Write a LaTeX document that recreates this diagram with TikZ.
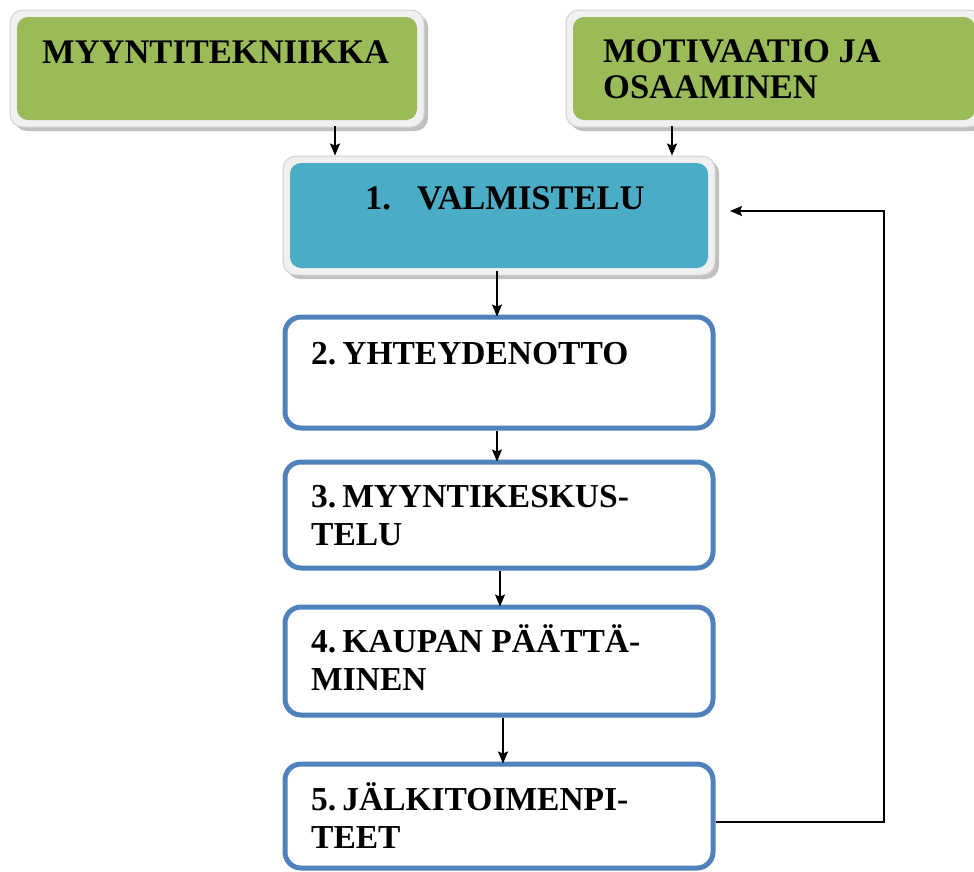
\documentclass[tikz,border=0pt]{standalone}
\usepackage{fontspec}
\setmainfont{Liberation Serif}
\usetikzlibrary{arrows.meta,shadows}
\definecolor{leafgreen}{HTML}{9BBB59}
\definecolor{tealblue}{HTML}{4BACC6}
\definecolor{stepline}{HTML}{4F81BD}
\newcommand{\twoline}[2]{\vtop{\baselineskip=38pt\hbox{#1}\hbox{#2}}}
\begin{document}
\begin{tikzpicture}[x=1pt,y=-1pt,
  frame/.style={rectangle,draw=black!18,line width=1pt,fill=black!6,rounded corners=13pt,
    drop shadow={shadow xshift=4pt,shadow yshift=-4pt,fill=black!45,opacity=.55},
    inner sep=0pt},
  inner/.style={rectangle,rounded corners=11pt,inner sep=0pt},
  stepbox/.style={rectangle,draw=stepline,line width=5pt,fill=white,rounded corners=16pt,inner sep=0pt},
  lbl/.style={anchor=base west,inner sep=0pt,font=\bfseries\fontsize{33.5}{38}\selectfont},
  title/.style={lbl,font=\bfseries\fontsize{34.5}{36}\selectfont},
  arr/.style={line width=1.4pt,-{Stealth[length=12pt,width=10pt,inset=2pt]}}]
\useasboundingbox (0,0) rectangle (974,871);

% top input boxes
\node[frame,minimum width=414,minimum height=117] (g1o) at (217,68.5) {};
\node[inner,fill=leafgreen,minimum width=400,minimum height=103] (g1) at (217,68.5) {};
\node[title] (t1) at (42,63) {MYYNTITEKNIIKKA};

\node[frame,minimum width=416,minimum height=117] (g2o) at (774,68.5) {};
\node[inner,fill=leafgreen,minimum width=402,minimum height=103] (g2) at (774,68.5) {};
\node[title] (t2) at (603,62) {\vtop{\baselineskip=36pt\hbox{MOTIVAATIO JA}\hbox{OSAAMINEN}}};

% step 1
\node[frame,minimum width=432,minimum height=119] (bo) at (499,215.5) {};
\node[inner,fill=tealblue,minimum width=418,minimum height=105] (b1) at (499,215.5) {};
\node[title] (t3) at (365,209) {1.\hspace{26pt}VALMISTELU};

% steps 2-5
\node[stepbox,minimum width=428,minimum height=111] (b2) at (499,372.5) {};
\node[lbl] (t4) at (311,364) {2.\hspace{6pt}YHTEYDENOTTO};

\node[stepbox,minimum width=428,minimum height=106] (b3) at (499,515) {};
\node[lbl] (t5) at (311,507) {\twoline{3.\hspace{6pt}MYYNTIKESKUS-}{TELU}};

\node[stepbox,minimum width=428,minimum height=108] (b4) at (499,661) {};
\node[lbl] (t6) at (311,652) {\twoline{4.\hspace{6pt}KAUPAN PÄÄTTÄ-}{MINEN}};

\node[stepbox,minimum width=428,minimum height=104] (b5) at (499,816) {};
\node[lbl] (t7) at (311,810) {\twoline{5.\hspace{6pt}JÄLKITOIMENPI-}{TEET}};

% connectors
\draw[arr] ([xshift=118pt,yshift=2pt]g1o.south) -- ([xshift=-164pt]bo.north);
\draw[arr] ([xshift=-102pt,yshift=2pt]g2o.south) -- ([xshift=173pt]bo.north);
\draw[arr] ([xshift=-2pt,yshift=5pt]bo.south) -- ([xshift=-2pt,yshift=-2pt]b2.north);
\draw[arr] ([xshift=-2pt]b2.south) -- ([xshift=-2pt,yshift=-2pt]b3.north);
\draw[arr] ([xshift=1pt]b3.south) -- ([xshift=1pt,yshift=-2pt]b4.north);
\draw[arr] ([xshift=4pt]b4.south) -- ([xshift=4pt,yshift=-2pt]b5.north);

% feedback loop back to step 1
\coordinate (fbk) at (884,211);
\coordinate (fbend) at (730,211);
\draw[arr] ([yshift=-6pt]b5.east) -| (fbk) -- (fbend);
\end{tikzpicture}
\end{document}
